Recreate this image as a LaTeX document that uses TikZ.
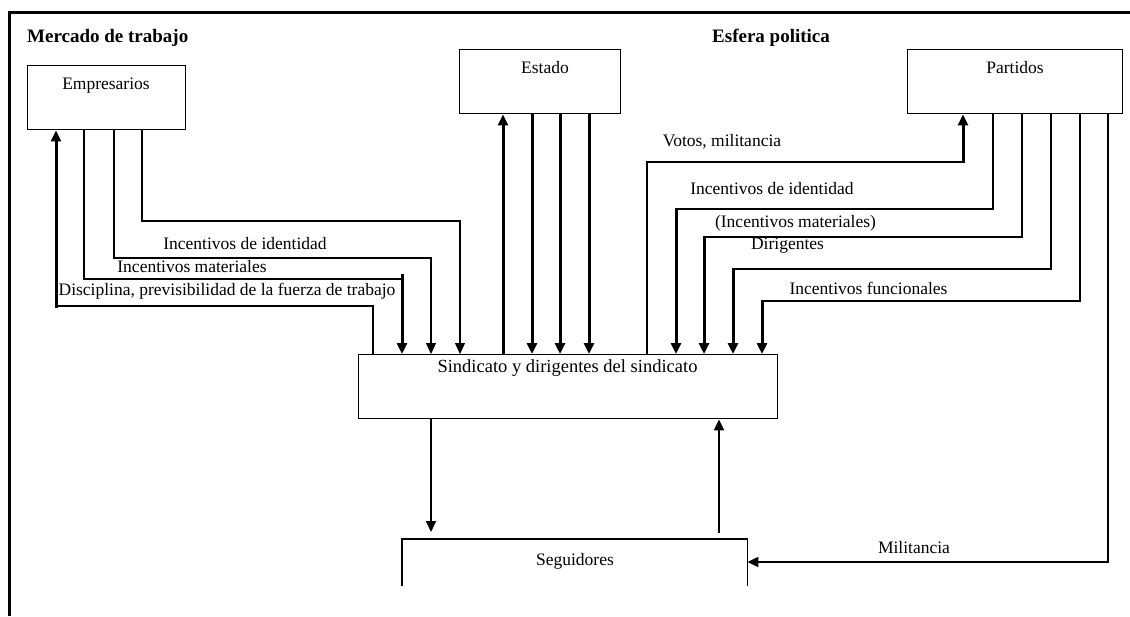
\documentclass[tikz,border=0pt]{standalone}
\usepackage{fontspec}
\setmainfont{Liberation Serif}
\usetikzlibrary{arrows.meta}
\tikzset{
  lbl/.style={inner sep=0pt, anchor=base, font=\fontsize{17.5pt}{20pt}\selectfont},
  head/.style={inner sep=0pt, anchor=base west, font=\bfseries\fontsize{19pt}{22pt}\selectfont},
  box/.style={draw, line width=1.4pt, anchor=north west, inner sep=0pt},
  thinl/.style={line width=1.2pt},
  thickl/.style={line width=3pt},
  medl/.style={line width=2pt},
  arr/.style={-{Triangle[width=10pt,length=11pt]}},
  framel/.style={line width=3pt}
}
\begin{document}
\begin{tikzpicture}[x=1pt,y=-1pt]
\useasboundingbox (0,0) rectangle (1130,616);
% frame
\draw[framel] (9,616) -- (9,12) -- (1130,12);
% headings
\node[head] (h1) at (27,42) {Mercado de trabajo};
\node[head] (h2) at (712,42) {Esfera politica};
% boxes
\node[box, minimum width=158pt, minimum height=64pt] (emp) at (27,65) {};
\node[box, minimum width=161pt, minimum height=64pt] (est) at (459,49) {};
\node[box, minimum width=215pt, minimum height=64pt] (par) at (907,49) {};
\node[box, minimum width=419pt, minimum height=64pt] (sind) at (358,354) {};
\node[inner sep=0pt, anchor=north west, minimum width=345pt, minimum height=47pt] (seg) at (402,539) {};
\draw[line width=1.4pt] (seg.south west) -- (seg.north west) -- (seg.north east) -- (seg.south east);
% box texts
\node[lbl] (empT) at (106,89) {Empresarios};
\node[lbl] (estT) at (545,73) {Estado};
\node[lbl] (parT) at (1015,73) {Partidos};
\node[lbl, font=\fontsize{18.5pt}{22pt}\selectfont] (sindT) at (567.5,372) {Sindicato y dirigentes del sindicato};
\node[lbl] (segT) at (575,565) {Seguidores};
% left group
\draw[thinl, arr] (emp.south -| 142,0) |- (460,221) -- (sind.north -| 460,0);
\draw[thinl, arr] (emp.south -| 114,0) |- (431,258) -- (sind.north -| 431,0);
\draw[thinl] (emp.south -| 84,0) |- (402,279);
\draw[thickl, arr] (402,274) -- (sind.north -| 402,0);
\draw[thinl] (sind.north -| 373,0) |- (56,306);
\draw[thickl, arr] (56,307.5) -- (emp.south -| 56,0);
\node[lbl] (l1) at (245,249) {Incentivos de identidad};
\node[lbl] (l2) at (192,272) {Incentivos materiales};
\node[lbl] (l3) at (227,295) {Disciplina, previsibilidad de la fuerza de trabajo};
% Estado
\draw[thickl, arr] (sind.north -| 503,0) -- (est.south -| 503,0);
\draw[thickl, arr] (est.south -| 532,0) -- (sind.north -| 532,0);
\draw[thickl, arr] (est.south -| 560,0) -- (sind.north -| 560,0);
\draw[thickl, arr] (est.south -| 589,0) -- (sind.north -| 589,0);
% right group
\draw[thinl] (sind.north -| 647,0) |- (963,162);
\draw[thickl, arr] (963,163) -- (par.south -| 963,0);
\draw[thinl] (par.south -| 993,0) |- (676,209);
\draw[thickl, arr] (676,208) -- (sind.north -| 676,0);
\draw[thinl] (par.south -| 1022,0) |- (704,237);
\draw[thickl, arr] (704,236) -- (sind.north -| 704,0);
\draw[thinl] (par.south -| 1051,0) |- (733,269);
\draw[thickl, arr] (733,268) -- (sind.north -| 733,0);
\draw[thinl] (par.south -| 1080,0) |- (762,301);
\draw[thickl, arr] (762,300) -- (sind.north -| 762,0);
\draw[thinl] (par.south -| 1108,0) -- (1108,562);
\draw[medl, arr] (1108.6,562) -- (seg.north east |- 0,562);
\node[lbl] (r1) at (722,146) {Votos, militancia};
\node[lbl] (r2) at (772,194) {Incentivos de identidad};
\node[lbl] (r3) at (795.5,227) {(Incentivos materiales)};
\node[lbl] (r4) at (787.5,249) {Dirigentes};
\node[lbl] (r5) at (868.5,294) {Incentivos funcionales};
\node[lbl] (r6) at (914,553) {Militancia};
% sindicato - seguidores
\draw[medl, arr, shorten >=7pt] (sind.south -| 431,0) -- (seg.north -| 431,0);
\draw[medl, arr, shorten <=6pt] (seg.north -| 719,0) -- (sind.south -| 719,0);
\end{tikzpicture}
\end{document}
